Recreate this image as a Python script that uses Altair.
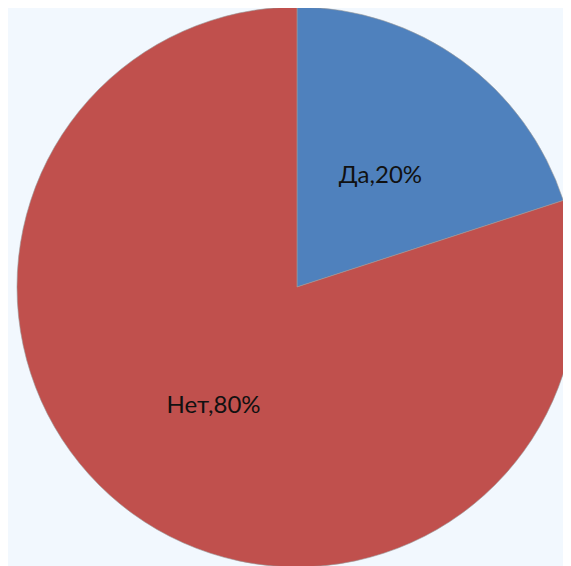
import altair as alt
import pandas as pd

categories = ["Да", "Нет"]
values = [20, 80]
colors = ["#4F81BD", "#C0504D"]

df = pd.DataFrame({"cat": categories, "val": values, "ord": [0, 1]})

base = alt.Chart(df).transform_calculate(
    label="datum.cat + ',' + datum.val + '%'"
).encode(
    theta=alt.Theta("val:Q", stack=True),
    order=alt.Order("ord:Q"),
    x=alt.value(289),
    y=alt.value(279),
)

pie = base.mark_arc(outerRadius=280, stroke="#9a9a9a", strokeWidth=0.6).encode(
    color=alt.Color("cat:N", scale=alt.Scale(domain=categories, range=colors), legend=None)
)

text = base.mark_text(radius=142, dy=4, font="Lato", fontSize=24, color="#111111").encode(
    text="label:N"
)

chart = (pie + text).properties(
    width=555, height=558, padding=0, autosize=alt.AutoSizeParams(type="none")
).configure(background="#F2F8FE").configure_view(stroke=None)

chart.save("out.html", embed_options={"renderer": "svg", "actions": False})
